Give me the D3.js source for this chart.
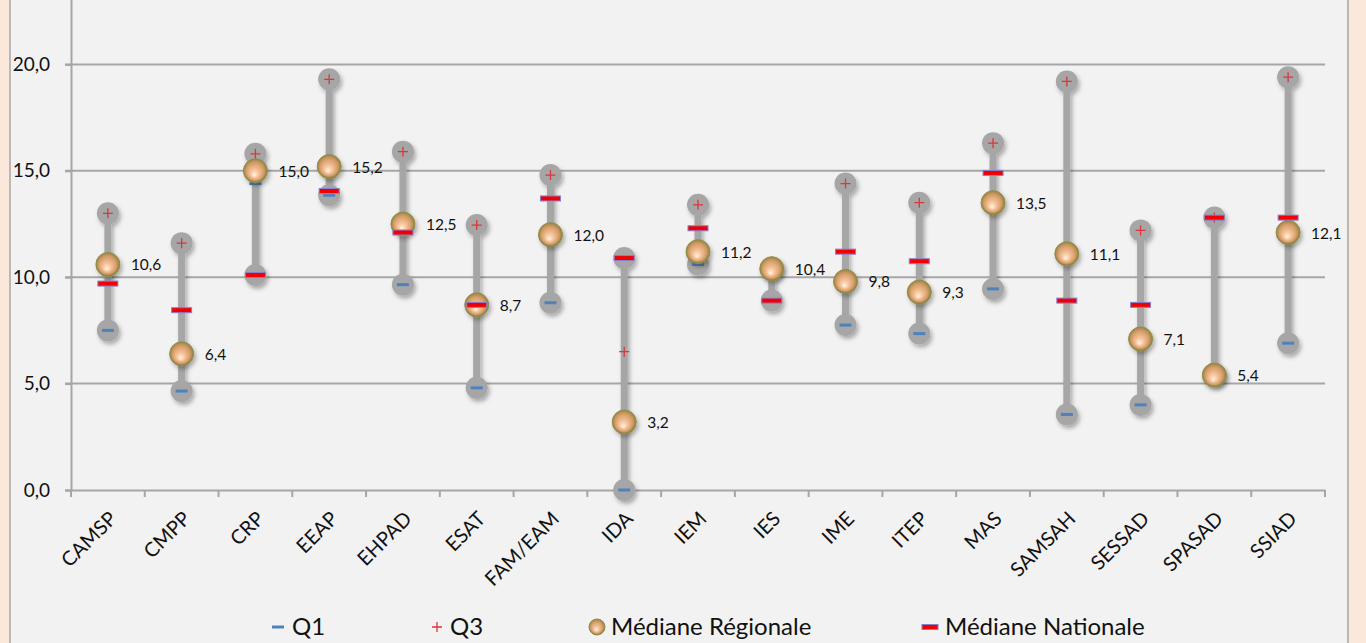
<!DOCTYPE html>
<html>
<head>
<meta charset="utf-8">
<script src="https://cdn.jsdelivr.net/npm/d3@7"></script>
<style>
  html, body { margin: 0; padding: 0; background: #fce8da; }
  #chart { width: 1366px; height: 643px; }
  text { font-family: Lato, "Open Sans", sans-serif; fill: #111; }
</style>
</head>
<body>
<div id="chart"></div>
<script>
// values
const categories = ["CAMSP", "CMPP", "CRP", "EEAP", "EHPAD", "ESAT", "FAM/EAM", "IDA", "IEM", "IES",
    "IME", "ITEP", "MAS", "SAMSAH", "SESSAD", "SPASAD", "SSIAD"];
const q1 = [7.5, 4.65, 14.4, 13.85, 9.65, 4.8, 8.8, 0.0, 10.6, 8.9, 7.75, 7.35, 9.45, 3.55, 4.0, 5.4, 6.9];
const q3 = [13.0, 11.6, 15.8, 19.3, 15.9, 12.45, 14.8, 6.5, 13.4, 10.4, 14.4, 13.5, 16.3, 19.2, 12.2, 12.8, 19.4];
const medRegional = [10.6, 6.4, 15.0, 15.2, 12.5, 8.7, 12.0, 3.2, 11.2, 10.4, 9.8, 9.3, 13.5, 11.1, 7.1, 5.4, 12.1];
const medNational = [9.7, 8.45, 10.1, 14.05, 12.1, 8.7, 13.7, 10.9, 12.3, 8.9, 11.2, 10.75, 14.9, 8.9, 8.7, 12.8, 12.8];
const yTicks = [0, 5, 10, 15, 20];
const legendItems = ["Q1", "Q3", "Médiane Régionale", "Médiane Nationale"];

const width = 1366, height = 643;
const margin = { top: -42, right: 41, bottom: 153, left: 71 };

const svg = d3.select("#chart").append("svg")
    .attr("width", width)
    .attr("height", height);

const defs = svg.append("defs");
const grad = defs.append("radialGradient")
    .attr("id", "ball").attr("cx", "50%").attr("cy", "45%").attr("r", "55%")
    .attr("fx", "45%").attr("fy", "70%");
grad.append("stop").attr("offset", "0%").attr("stop-color", "#fff4e6");
grad.append("stop").attr("offset", "30%").attr("stop-color", "#f6c49a");
grad.append("stop").attr("offset", "68%").attr("stop-color", "#d39a66");
grad.append("stop").attr("offset", "100%").attr("stop-color", "#6f7330");

const shadow = defs.append("filter").attr("id", "shadow")
    .attr("x", "-50%").attr("y", "-50%").attr("width", "200%").attr("height", "200%");
shadow.append("feDropShadow").attr("dx", 2).attr("dy", 3).attr("stdDeviation", 2)
    .attr("flood-color", "#000").attr("flood-opacity", 0.3);

// chart area background
svg.append("rect")
    .attr("x", 10).attr("y", -5).attr("width", 1338).attr("height", 660)
    .attr("fill", "#f2f2f2").attr("stroke", "#a6a6a6").attr("stroke-width", 1.5);

const x = d3.scaleBand()
    .domain(categories)
    .range([margin.left, width - margin.right]);

const y = d3.scaleLinear()
    .domain([0, 25])
    .range([height - margin.bottom, margin.top]);

const fmt = v => d3.format(".1f")(v).replace(".", ",");

// gridlines
svg.append("g")
    .selectAll("line")
    .data(yTicks.filter(d => d > 0))
    .enter().append("line")
    .attr("x1", margin.left - 6).attr("x2", width - margin.right)
    .attr("y1", d => y(d)).attr("y2", d => y(d))
    .attr("stroke", "#a6a6a6").attr("stroke-width", 2);

// Y-axis
const yAxis = svg.append("g")
    .attr("transform", `translate(${margin.left},0)`)
    .call(d3.axisLeft(y).tickValues(yTicks).tickSize(6).tickPadding(15).tickFormat(fmt));
yAxis.select(".domain").attr("stroke", "#a6a6a6").attr("stroke-width", 2);
yAxis.selectAll(".tick line").attr("stroke", "#a6a6a6").attr("stroke-width", 2);
yAxis.selectAll(".tick text").style("font-size", "19px").attr("fill", "#111");

// X-axis
const xAxis = svg.append("g")
    .attr("transform", `translate(0,${y(0)})`)
    .call(d3.axisBottom(x).tickSize(0).tickFormat(""));
xAxis.select(".domain").attr("stroke", "#a6a6a6").attr("stroke-width", 2);
svg.append("g")
    .selectAll("line")
    .data(d3.range(categories.length + 1))
    .enter().append("line")
    .attr("x1", i => margin.left + i * x.step()).attr("x2", i => margin.left + i * x.step())
    .attr("y1", y(0)).attr("y2", y(0) + 7)
    .attr("stroke", "#a6a6a6").attr("stroke-width", 2);

svg.append("g")
    .selectAll("text")
    .data(categories)
    .enter().append("text")
    .attr("text-anchor", "end")
    .attr("transform", d => `translate(${x(d) + x.bandwidth() / 2 + 10},${y(0) + 30}) rotate(-45)`)
    .style("font-size", "20px")
    .text(d => d);

const cx = d => x(d) + x.bandwidth() / 2;
const rows = categories.map((c, i) => {
    const vals = [q1[i], q3[i], medRegional[i], medNational[i]];
    return { c, q1: q1[i], q3: q3[i], reg: medRegional[i], nat: medNational[i],
        lo: d3.min(vals), hi: d3.max(vals) };
});

// high-low lines with caps
const hl = svg.append("g").attr("filter", "url(#shadow)");
hl.selectAll("line")
    .data(rows)
    .enter().append("line")
    .attr("x1", d => cx(d.c)).attr("x2", d => cx(d.c))
    .attr("y1", d => y(d.lo)).attr("y2", d => y(d.hi))
    .attr("stroke", "#a6a6a6").attr("stroke-width", 7);
hl.selectAll("circle.cap")
    .data(rows.flatMap(d => [{ c: d.c, v: d.lo }, { c: d.c, v: d.hi }]))
    .enter().append("circle")
    .attr("class", "cap")
    .attr("cx", d => cx(d.c)).attr("cy", d => y(d.v))
    .attr("r", 11)
    .attr("fill", "#a6a6a6");

// Q1
svg.selectAll("rect.q1")
    .data(rows)
    .enter().append("rect")
    .attr("class", "q1")
    .attr("x", d => cx(d.c) - 6).attr("y", d => y(d.q1) - 1.5)
    .attr("width", 12).attr("height", 3)
    .attr("fill", "#4f81bd");

// Q3
svg.selectAll("path.q3")
    .data(rows)
    .enter().append("path")
    .attr("class", "q3")
    .attr("d", d => `M${cx(d.c) - 5},${y(d.q3)}h10M${cx(d.c)},${y(d.q3) - 5}v10`)
    .attr("stroke", "#d9383a").attr("stroke-width", 1.3).attr("fill", "none");

// Médiane régionale
svg.selectAll("circle.reg")
    .data(rows)
    .enter().append("circle")
    .attr("class", "reg")
    .attr("cx", d => cx(d.c)).attr("cy", d => y(d.reg))
    .attr("r", 12)
    .attr("fill", "url(#ball)")
    .attr("stroke", "#8e9048").attr("stroke-width", 1)
    .attr("filter", "url(#shadow)");

svg.selectAll("text.lbl")
    .data(rows)
    .enter().append("text")
    .attr("class", "lbl")
    .attr("x", d => cx(d.c) + 23).attr("y", d => y(d.reg) + 6)
    .style("font-size", "15.5px")
    .text(d => fmt(d.reg));

// Médiane nationale
svg.selectAll("rect.nat")
    .data(rows)
    .enter().append("rect")
    .attr("class", "nat")
    .attr("x", d => cx(d.c) - 10).attr("y", d => y(d.nat) - 2.5)
    .attr("width", 20).attr("height", 5)
    .attr("fill", "#f00000").attr("stroke", "#8a7fd0").attr("stroke-width", 1);

// legend
const ly = 627;
const lg = svg.append("g");
lg.append("rect").attr("x", 272).attr("y", ly - 1.5).attr("width", 12).attr("height", 3).attr("fill", "#4f81bd");
lg.append("path").attr("d", `M432,${ly}h10M437,${ly - 5}v10`).attr("stroke", "#d9383a").attr("stroke-width", 1.3);
lg.append("circle").attr("cx", 597).attr("cy", ly).attr("r", 8)
    .attr("fill", "url(#ball)").attr("stroke", "#8e9048");
lg.append("rect").attr("x", 922).attr("y", ly - 2.5).attr("width", 16).attr("height", 5)
    .attr("fill", "#f00000").attr("stroke", "#8a7fd0");
const lx = [292, 450, 611, 945];
lg.selectAll("text")
    .data(legendItems)
    .enter().append("text")
    .attr("x", (d, i) => lx[i]).attr("y", ly + 8)
    .style("font-size", "24px")
    .text(d => d);
</script>
</body>
</html>
